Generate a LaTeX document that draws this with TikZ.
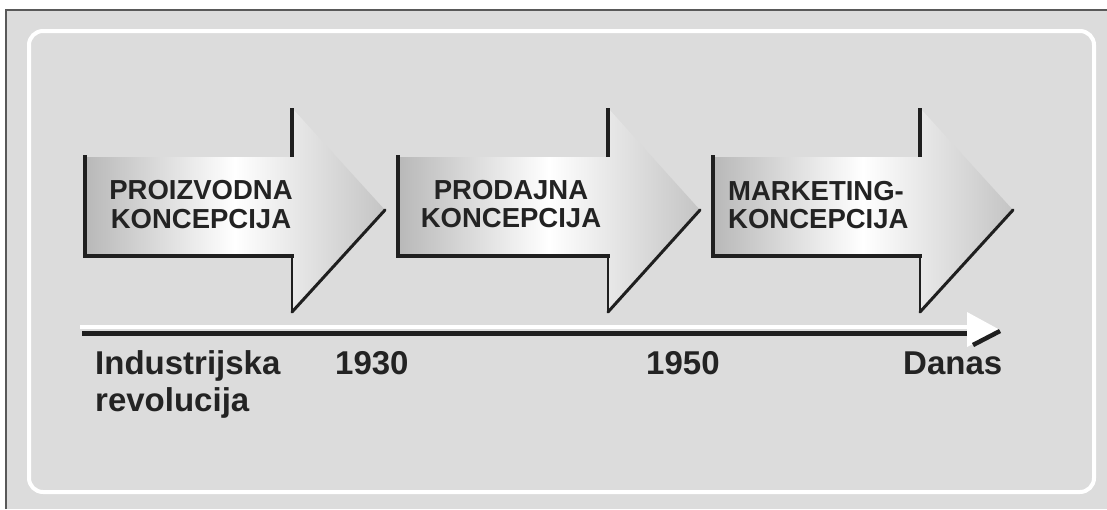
\documentclass[tikz,border=0pt]{standalone}
\usepackage{fontspec}
\setmainfont{Liberation Sans}
\definecolor{bg}{HTML}{DCDCDC}
\definecolor{txt}{HTML}{232323}
\definecolor{shL}{HTML}{B8B8B8}
\definecolor{shR}{HTML}{C4C4C4}
\newcommand\chevarrow[3]{%
  \shade[left color=shL, right color=shR, middle color=white]
    (#1,157) -- (#2,157) -- (#2,108) -- (#3,210) -- (#2,312) -- (#2,256) -- (#1,256) -- cycle;
  \draw[blk, line width=4pt, line cap=rect] (#1,157) -- (#1,256) -- (#2,256);
  \draw[blk, line width=1.6pt] (#2,256) -- (#2,312);
  \draw[blk, line width=3pt, line cap=round] (#2,312) -- (#3,210);
  \draw[blk, line width=4pt] (#2,108) -- (#2,157);
}
\begin{document}
\begin{tikzpicture}[x=1pt,y=-1pt,
  blk/.style={draw=black!88},
  lbl/.style={font=\bfseries\fontsize{27.5}{28.5}\selectfont, text=txt, inner sep=0pt, align=center},
  tl/.style={font=\bfseries\fontsize{33}{37}\selectfont, text=txt, inner sep=0pt, align=left},
]
\useasboundingbox (0,0) rectangle (1107,509);
\fill[white] (0,0) rectangle (1107,509);
\fill[bg] (6,10) rectangle (1107,509);
\draw[black!65, line width=1.2pt] (6,509) -- (6,10) -- (1107,10);
\draw[white, line width=4pt, rounded corners=14pt] (29,31) rectangle (1094,492);

\chevarrow{85}{292}{385}
\chevarrow{398}{608}{700}
\chevarrow{713}{920}{1013}

\node[lbl] (p1) at (201,204.5) {PROIZVODNA\\KONCEPCIJA};
\node[lbl] (p2) at (511,204) {PRODAJNA\\KONCEPCIJA};
\node[lbl, align=left, anchor=west] (p3) at (728,205) {MARKETING-\\KONCEPCIJA};

\coordinate (tlS) at (82,333);
\coordinate (tlE) at (968,333);
\coordinate (hlS) at (80,327);
\coordinate (hlE) at (968,327);
\draw[white, line width=4pt] (hlS) -- (hlE);
\draw[blk, line width=5pt] (tlS) -- (tlE);
\fill[white] (967,312) -- (1000,330) -- (967,347) -- cycle;
\draw[blk, line width=4.5pt] (973,345) -- (1000,331);

\node[tl, anchor=north west] (ir) at (95,350.5) {Industrijska\\revolucija};
\node[tl, anchor=base west] (y1930) at (335,374) {1930};
\node[tl, anchor=base west] (y1950) at (646,374) {1950};
\node[tl, anchor=base west] (danas) at (903,374) {Danas};
\end{tikzpicture}
\end{document}
